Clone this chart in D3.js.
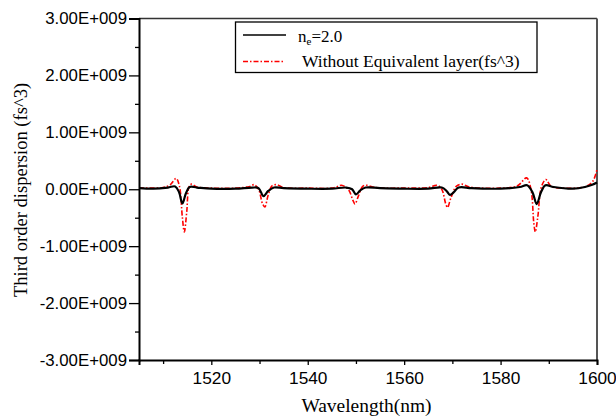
<!DOCTYPE html>
<html><head><meta charset="utf-8">
<script src="https://cdn.jsdelivr.net/npm/d3@7"></script>
<style>html,body{margin:0;padding:0;background:#fff;}</style>
</head><body><svg id="c" width="616" height="416"></svg>
<script>
// Data (wavelength nm, third order dispersion fs^3)
const blackWl = [1505,1508,1511,1512.5,1513.3,1514.0,1514.7,1515.5,1517,1520,1525,1528.5,1529.8,1530.8,1531.8,1533,1535,1540,1545,1548,1549.2,1550.0,1550.9,1552,1555,1560,1565,1567.8,1568.8,1569.5,1570.3,1571.3,1574,1580,1584,1585.5,1586.6,1587.5,1588.4,1589.3,1591,1595,1597.5,1599,1600];
const blackVal = [0.02e9,0.01e9,0.03e9,0.05e9,-0.05e9,-0.25e9,-0.08e9,0.04e9,0.03e9,0.01e9,0.01e9,0.03e9,0.02e9,-0.12e9,-0.03e9,0.03e9,0.02e9,0.01e9,0.01e9,0.03e9,0.0,-0.09e9,-0.02e9,0.03e9,0.02e9,0.01e9,0.01e9,0.03e9,-0.03e9,-0.1e9,-0.05e9,0.03e9,0.02e9,0.01e9,0.04e9,0.07e9,-0.05e9,-0.26e9,-0.05e9,0.07e9,0.04e9,0.01e9,0.04e9,0.08e9,0.12e9];
const redWl = [1505,1508,1510,1511.5,1512.7,1513.4,1514.0,1514.4,1514.9,1515.4,1515.9,1517,1520,1525,1528,1528.9,1529.8,1530.6,1531.1,1531.8,1532.6,1533.6,1535,1540,1545,1546.2,1547.0,1548.4,1549.4,1549.8,1550.5,1551.4,1552.2,1554,1560,1565,1566.8,1567.8,1568.6,1569.0,1569.7,1570.8,1571.9,1573.5,1580,1583.5,1585.4,1586.3,1586.9,1587.2,1587.7,1588.5,1589.4,1590.5,1593,1596,1598,1599.2,1600];
const redVal = [0.02e9,0.02e9,0.03e9,0.08e9,0.19e9,0.05e9,-0.5e9,-0.75e9,-0.4e9,0.05e9,0.09e9,0.04e9,0.02e9,0.02e9,0.05e9,0.08e9,0.0,-0.25e9,-0.31e9,-0.1e9,0.06e9,0.08e9,0.03e9,0.02e9,0.02e9,0.05e9,0.07e9,0.0,-0.2e9,-0.26e9,-0.12e9,0.05e9,0.07e9,0.03e9,0.02e9,0.03e9,0.07e9,0.0,-0.25e9,-0.32e9,-0.15e9,0.05e9,0.09e9,0.04e9,0.02e9,0.06e9,0.2e9,0.0,-0.6e9,-0.75e9,-0.5e9,0.05e9,0.17e9,0.05e9,0.02e9,0.02e9,0.06e9,0.15e9,0.35e9];
const xTicks = [1520,1540,1560,1580,1600];
const xMinor = [1510,1530,1550,1570,1590];
const yTicks = [-3e9,-2e9,-1e9,0,1e9,2e9,3e9];
const yTickLabels = ["-3.00E+009","-2.00E+009","-1.00E+009","0.00E+000","1.00E+009","2.00E+009","3.00E+009"];
const yMinor = [-2.5e9,-1.5e9,-0.5e9,0.5e9,1.5e9,2.5e9];
const seriesNames = ["n_e=2.0","Without Equivalent layer(fs^3)"];

const svg = d3.select("#c");
const L=139, R=597, T=18.5, B=360;
const x = d3.scaleLinear().domain([1505,1600]).range([L,R]);
const y = d3.scaleLinear().domain([-3e9,3e9]).range([B,T]);

function stretch(sel, f){
  sel.each(function(){
    const n = this.getComputedTextLength();
    d3.select(this).attr("textLength", n*f).attr("lengthAdjust","spacingAndGlyphs");
  });
}

// frame top/right
svg.append("line").attr("x1",L).attr("x2",R).attr("y1",T).attr("y2",T).attr("stroke","#333").attr("stroke-width",1.5);
svg.append("line").attr("x1",R).attr("x2",R).attr("y1",T).attr("y2",B).attr("stroke","#555").attr("stroke-width",2);

svg.append("clipPath").attr("id","pc").append("rect").attr("x",L).attr("y",T).attr("width",R-L+2).attr("height",B-T);
const g = svg.append("g").attr("clip-path","url(#pc)");
const line = d3.line().curve(d3.curveCatmullRom.alpha(0.5)).x(d=>x(d[0])).y(d=>y(d[1]));
g.append("path").datum(redWl.map((w,i)=>[w,redVal[i]])).attr("d",line).attr("fill","none").attr("stroke","#ff0000").attr("stroke-width",1.6).attr("stroke-dasharray","5,2,1.5,2");
g.append("path").datum(blackWl.map((w,i)=>[w,blackVal[i]])).attr("d",line).attr("fill","none").attr("stroke","#000").attr("stroke-width",2.2);

const sans = "'Liberation Sans',Arial,sans-serif";
const serif = "'Liberation Serif','Times New Roman',serif";

// y axis
const ya = svg.append("g").attr("transform",`translate(${L},0)`)
  .call(d3.axisLeft(y).tickValues(yTicks).tickSize(10).tickPadding(2).tickFormat((d,i)=>yTickLabels[i]));
ya.select(".domain").attr("stroke-width",2);
ya.selectAll(".tick line").attr("stroke-width",1.3);
ya.selectAll("text").attr("font-family",sans).attr("font-size",16).attr("fill","#000");
stretch(ya.selectAll("text"),1.05);
const yam = svg.append("g").attr("transform",`translate(${L},0)`)
  .call(d3.axisLeft(y).tickValues(yMinor).tickSize(4).tickFormat(""));
yam.select(".domain").remove();
yam.selectAll(".tick line").attr("stroke-width",1.3);

// x axis
const xa = svg.append("g").attr("transform",`translate(0,${B})`)
  .call(d3.axisBottom(x).tickValues(xTicks).tickSize(5).tickPadding(8).tickFormat(d3.format("d")));
xa.select(".domain").attr("stroke-width",2);
xa.selectAll(".tick line").attr("stroke-width",1.3);
xa.selectAll("text").attr("font-family",sans).attr("font-size",16).attr("fill","#000");
stretch(xa.selectAll("text"),1.08);
const xam = svg.append("g").attr("transform",`translate(0,${B})`)
  .call(d3.axisBottom(x).tickValues(xMinor).tickSize(4).tickFormat(""));
xam.select(".domain").remove();
xam.selectAll(".tick line").attr("stroke-width",1.3);

// labels
const xl = svg.append("text").attr("x",366.5).attr("y",412).attr("text-anchor","middle")
  .attr("font-family",serif).attr("font-size",18).text("Wavelength(nm)");
stretch(xl,1.08);
const yl = svg.append("text").attr("transform","translate(27,190) rotate(-90)").attr("text-anchor","middle")
  .attr("font-family",serif).attr("font-size",18).text("Third order dispersion (fs^3)");
stretch(yl,1.03);

// legend
const lg = svg.append("g");
lg.append("rect").attr("x",235.5).attr("y",22).attr("width",301.5).attr("height",50.5).attr("fill","#fff").attr("stroke","#000").attr("stroke-width",1.3);
lg.append("line").attr("x1",243).attr("x2",286).attr("y1",35).attr("y2",35).attr("stroke","#000").attr("stroke-width",1.5);
lg.append("line").attr("x1",243).attr("x2",285).attr("y1",61.5).attr("y2",61.5).attr("stroke","#ff0000").attr("stroke-width",1.3).attr("stroke-dasharray","5,2,1.5,2");
const t1 = lg.append("text").attr("x",298).attr("y",42).attr("font-family",serif).attr("font-size",17);
t1.append("tspan").text("n");
t1.append("tspan").attr("font-size",11).attr("dy",3).text("e");
t1.append("tspan").attr("dy",-3).text("=2.0");
const t2 = lg.append("text").attr("x",302).attr("y",67).attr("font-family",serif).attr("font-size",17).text(seriesNames[1]);
stretch(t2,1.03);
</script></body></html>
